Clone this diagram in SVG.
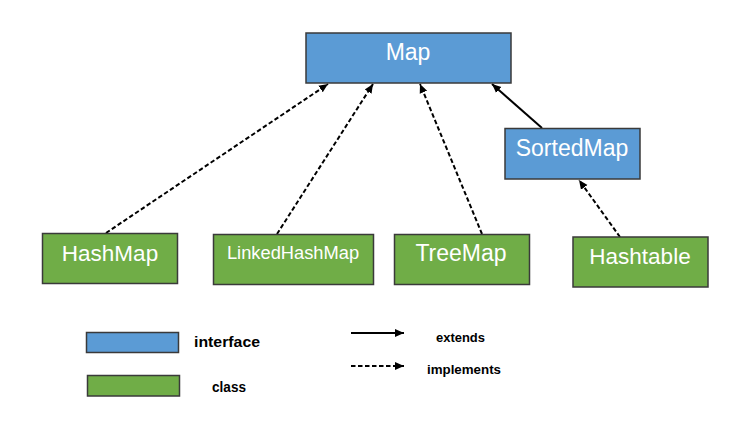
<svg xmlns="http://www.w3.org/2000/svg" width="747" height="434" viewBox="0 0 747 434">
<defs>
<marker id="ah" markerUnits="userSpaceOnUse" markerWidth="10" markerHeight="10" viewBox="0 0 10 10" refX="9" refY="5" orient="auto">
<path d="M0,1 L9,5 L0,9 Z" fill="#000"/>
</marker>
<style>
.iface{fill:#5B9BD5;stroke:#3a3a3a;stroke-width:1.5}
.cls{fill:#70AD47;stroke:#3a3a3a;stroke-width:1.5}
.lbl{font-family:"Liberation Sans",Arial,sans-serif;fill:#fff;text-anchor:middle}
.leg{font-family:"Liberation Sans",Arial,sans-serif;font-weight:bold;fill:#000}
.dash{stroke:#000;stroke-width:2;fill:none;stroke-dasharray:4.5 2.5;marker-end:url(#ah)}
.solid{stroke:#000;stroke-width:2;fill:none;marker-end:url(#ah)}
</style>
</defs>
<rect width="747" height="434" fill="#fff"/>
<g id="connectors">
<line class="dash" x1="106" y1="233" x2="328" y2="84"/>
<line class="dash" x1="277" y1="234" x2="373" y2="84"/>
<line class="dash" x1="482" y1="234" x2="420" y2="84"/>
<line class="solid" x1="542" y1="128" x2="492" y2="84"/>
<line class="dash" x1="620" y1="237" x2="579" y2="180"/>
</g>
<g id="Map">
<rect class="iface" x="306" y="33" width="205" height="50"/>
<text class="lbl" x="408" y="60" font-size="23">Map</text>
</g>
<g id="SortedMap">
<rect class="iface" x="505" y="128.5" width="135" height="50.5"/>
<text class="lbl" x="572" y="156" font-size="23">SortedMap</text>
</g>
<g id="HashMap">
<rect class="cls" x="42.5" y="233.5" width="135" height="50"/>
<text class="lbl" x="110" y="261" font-size="22.5">HashMap</text>
</g>
<g id="LinkedHashMap">
<rect class="cls" x="213.5" y="234.5" width="160" height="50"/>
<text class="lbl" x="293" y="259" font-size="18.3">LinkedHashMap</text>
</g>
<g id="TreeMap">
<rect class="cls" x="394.5" y="234.5" width="135" height="50"/>
<text class="lbl" x="461" y="261" font-size="23">TreeMap</text>
</g>
<g id="Hashtable">
<rect class="cls" x="573" y="237" width="135" height="50"/>
<text class="lbl" x="640" y="264" font-size="22.5">Hashtable</text>
</g>
<g id="legend">
<rect class="iface" x="86.5" y="332.5" width="92" height="20"/>
<text class="leg" x="194" y="347" font-size="15.5" textLength="66" lengthAdjust="spacingAndGlyphs">interface</text>
<rect class="cls" x="87.5" y="375.5" width="92" height="20.5"/>
<text class="leg" x="212" y="392" font-size="15.5" textLength="34" lengthAdjust="spacingAndGlyphs">class</text>
<line class="solid" x1="351" y1="333" x2="404" y2="333"/>
<text class="leg" x="436" y="342" font-size="13" textLength="49" lengthAdjust="spacingAndGlyphs">extends</text>
<line class="dash" x1="351" y1="366" x2="404" y2="366"/>
<text class="leg" x="427" y="373.5" font-size="13" textLength="74" lengthAdjust="spacingAndGlyphs">implements</text>
</g>
</svg>
